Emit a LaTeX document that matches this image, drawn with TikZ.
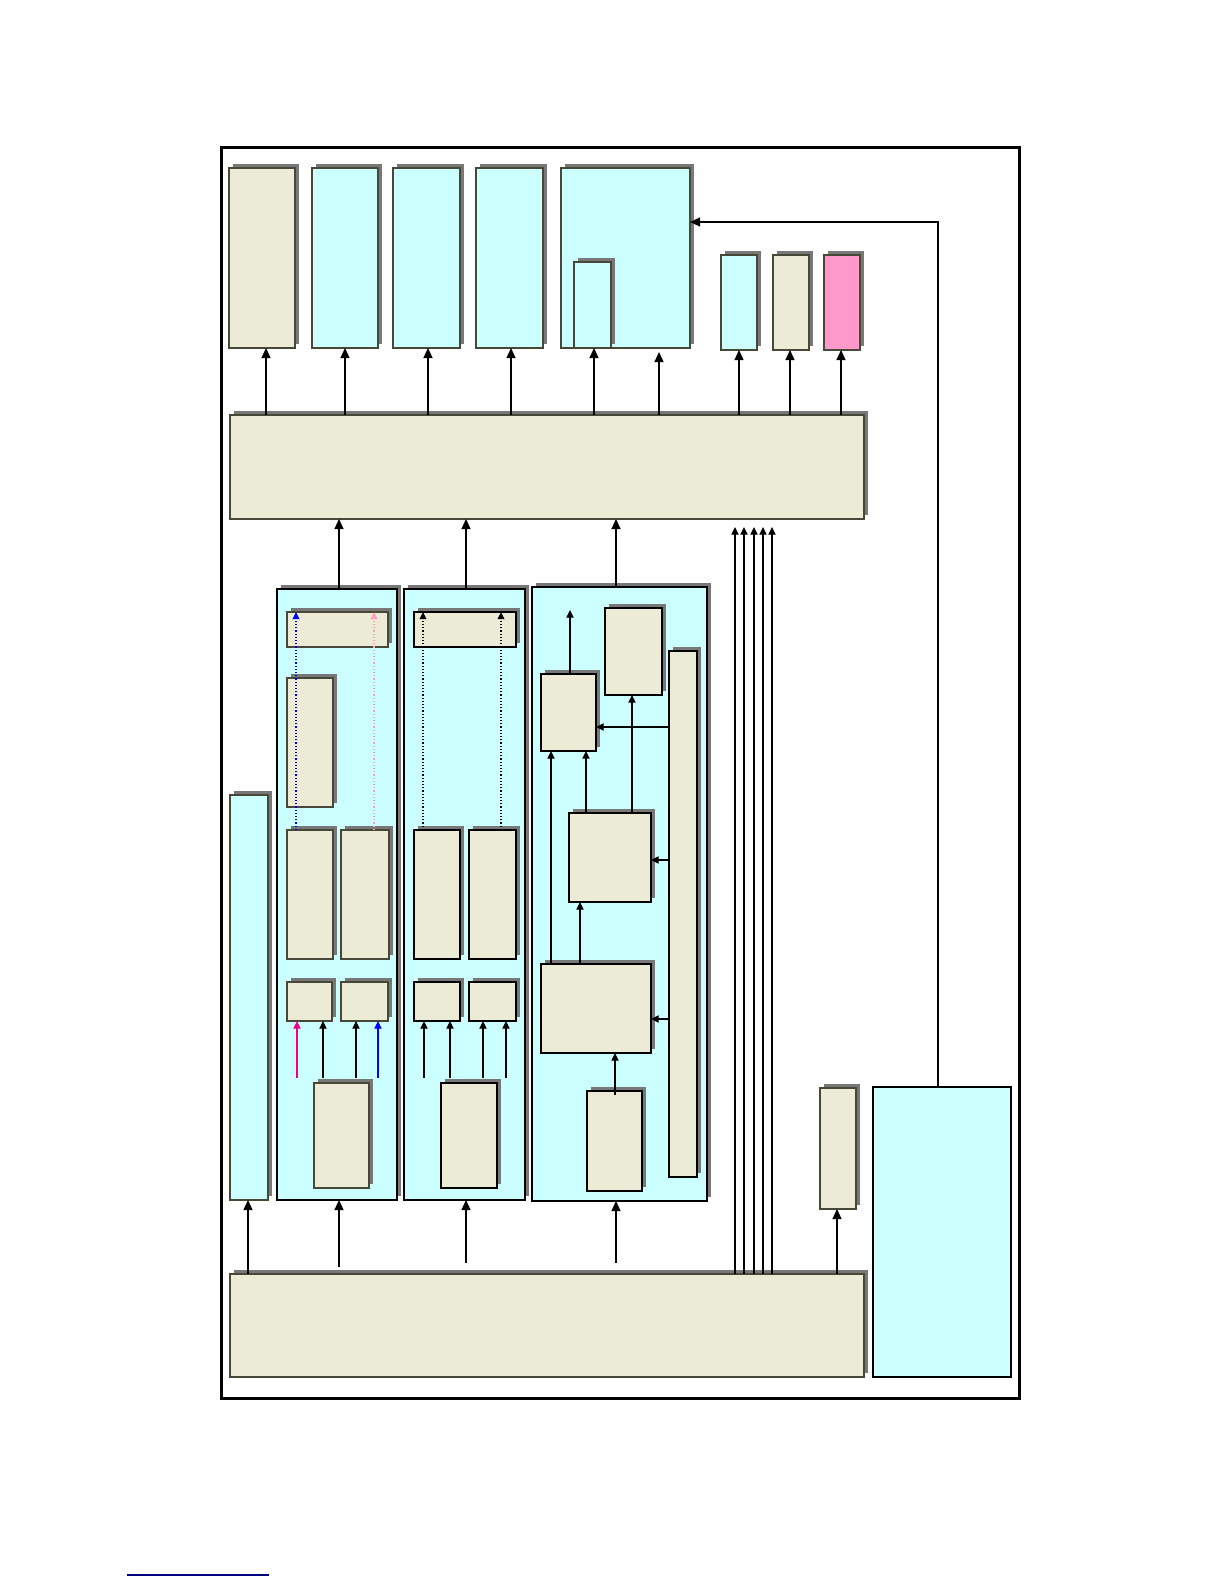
\documentclass[tikz,border=0pt]{standalone}
\usetikzlibrary{shadows,fit,arrows.meta}
\definecolor{beige}{RGB}{236,235,214}
\definecolor{cyanb}{RGB}{204,255,255}
\definecolor{pinkb}{RGB}{255,153,204}
\definecolor{bd}{RGB}{72,72,56}
\definecolor{shd}{RGB}{120,120,120}
\definecolor{linkblue}{RGB}{0,0,128}
\definecolor{dotpink}{RGB}{255,160,190}
\tikzset{
  bx/.style={rectangle, inner sep=0pt, outer sep=0pt, draw=bd, line width=1pt,
             general shadow={fill=shd, shadow xshift=1.9pt, shadow yshift=1.9pt}},
  bg/.style={bx, fill=beige},
  bc/.style={bx, fill=cyanb},
  bp/.style={bx, fill=pinkb},
  blk/.style={draw=black, line width=1.2pt},
  grp/.style={bc, blk},
  arr/.style={-{Triangle[length=5pt,width=4.5pt]}, line width=0.6pt},
  sarr/.style={-{Triangle[length=3.8pt,width=3.6pt]}, line width=0.6pt},
  dotarr/.style={-{Triangle[length=3.6pt,width=3.4pt]}, line width=0.6pt, densely dotted},
}
\begin{document}
\begin{tikzpicture}[x=0.5pt,y=-0.5pt]
\useasboundingbox (0,0) rectangle (1224,1584);
% outer frame
\node[rectangle, draw=black, line width=1.5pt, inner sep=0pt, fit={(221,147) (1019,1398)}] (frame) {};

% top row
\node[bg, fit={(229,168) (295,348)}] (t1) {};
\node[bc, fit={(312,168) (378,348)}] (t2) {};
\node[bc, fit={(393,168) (460,348)}] (t3) {};
\node[bc, fit={(476,168) (543,348)}] (t4) {};
\node[bc, fit={(561,168) (690,348)}] (t5) {};
\node[bc, fit={(574,262) (611,348)}] (ti) {};
\node[bc, fit={(721,255) (757,350)}] (s1) {};
\node[bg, fit={(773,255) (809,350)}] (s2) {};
\node[bp, fit={(824,255) (860,350)}] (s3) {};

% top bus
\node[bg, fit={(230,415) (864,519)}] (bus1) {};

% arrows bus1 -> top row
\coordinate (a1) at (266,0);
\coordinate (a2) at (345,0);
\coordinate (a3) at (428,0);
\coordinate (a4) at (511,0);
\coordinate (a5) at (594,0);
\coordinate (a6) at (659,0);
\coordinate (a7) at (739,0);
\coordinate (a8) at (790,0);
\coordinate (a9) at (841,0);
\draw[arr] (a1 |- bus1.north) -- (a1 |- t1.south);
\draw[arr] (a2 |- bus1.north) -- (a2 |- t2.south);
\draw[arr] (a3 |- bus1.north) -- (a3 |- t3.south);
\draw[arr] (a4 |- bus1.north) -- (a4 |- t4.south);
\draw[arr] (a5 |- bus1.north) -- (a5 |- ti.south);
\draw[arr, shorten >=2pt] (a6 |- bus1.north) -- (a6 |- t5.south);
\draw[arr] (a7 |- bus1.north) -- (a7 |- s1.south);
\draw[arr] (a8 |- bus1.north) -- (a8 |- s2.south);
\draw[arr] (a9 |- bus1.north) -- (a9 |- s3.south);

% left tall box
\node[bc, fit={(230,795) (268,1200)}] (lt) {};

% groups
\node[grp, fit={(277,589) (397,1200)}] (g1) {};
\node[grp, fit={(404,589) (525,1200)}] (g2) {};
\node[grp, fit={(532,587) (707,1201)}] (g3) {};

% group 1 content
\node[bg, fit={(287,612) (388,647)}] (g1bar) {};
\node[bg, fit={(287,678) (333,807)}] (g1tall) {};
\node[bg, fit={(287,830) (333,959)}] (g1m1) {};
\node[bg, fit={(341,830) (389,959)}] (g1m2) {};
\node[bg, fit={(287,982) (332,1021)}] (g1s1) {};
\node[bg, fit={(341,982) (388,1021)}] (g1s2) {};
\node[bg, fit={(314,1083) (369,1188)}] (g1b) {};

\coordinate (d1) at (296,0);
\coordinate (d2) at (374,0);
\draw[dotarr, blue] (d1 |- g1m1.north) -- (d1 |- g1bar.north);
\draw[dotarr, dotpink] (d2 |- g1m2.north) -- (d2 |- g1bar.north);

\coordinate (e1) at (297,1078);
\coordinate (e2) at (323,1078);
\coordinate (e3) at (356,1078);
\coordinate (e4) at (378,1078);
\draw[sarr, magenta] (e1) -- (e1 |- g1s1.south);
\draw[sarr] (e2) -- (e2 |- g1s1.south);
\draw[sarr] (e3) -- (e3 |- g1s2.south);
\draw[sarr, blue] (e4) -- (e4 |- g1s2.south);

% group 2 content
\node[bg, blk, fit={(414,612) (516,647)}] (g2bar) {};
\node[bg, blk, fit={(414,830) (460,959)}] (g2m1) {};
\node[bg, blk, fit={(469,830) (516,959)}] (g2m2) {};
\node[bg, blk, fit={(414,982) (460,1021)}] (g2s1) {};
\node[bg, blk, fit={(469,982) (516,1021)}] (g2s2) {};
\node[bg, blk, fit={(441,1083) (497,1188)}] (g2b) {};

\coordinate (d3) at (423,0);
\coordinate (d4) at (501,0);
\draw[dotarr] (d3 |- g2m1.north) -- (d3 |- g2bar.north);
\draw[dotarr] (d4 |- g2m2.north) -- (d4 |- g2bar.north);

\coordinate (f1) at (424,1078);
\coordinate (f2) at (450,1078);
\coordinate (f3) at (483,1078);
\coordinate (f4) at (506,1078);
\draw[sarr] (f1) -- (f1 |- g2s1.south);
\draw[sarr] (f2) -- (f2 |- g2s1.south);
\draw[sarr] (f3) -- (f3 |- g2s2.south);
\draw[sarr] (f4) -- (f4 |- g2s2.south);

% group 3 content
\node[bg, blk, fit={(541,674) (596,751)}] (gA) {};
\node[bg, blk, fit={(605,608) (662,695)}] (gB) {};
\node[bg, blk, fit={(669,651) (697,1177)}] (gC) {};
\node[bg, blk, fit={(569,813) (651,902)}] (gD) {};
\node[bg, blk, fit={(541,964) (651,1053)}] (gE) {};
\node[bg, blk, fit={(587,1091) (642,1191)}] (gF) {};

\coordinate (hA) at (570,610);
\draw[sarr] (hA |- gA.north) -- (hA);
\coordinate (y1) at (0,727);
\draw[sarr] (gC.west |- y1) -- (gA.east |- y1);
\coordinate (x1) at (586,0);
\coordinate (x2) at (632,0);
\coordinate (x3) at (580,0);
\coordinate (x4) at (551,0);
\coordinate (x5) at (615,1095);
\draw[sarr] (x1 |- gD.north) -- (x1 |- gA.south);
\draw[sarr] (x2 |- gD.north) -- (x2 |- gB.south);
\draw[sarr] (x4 |- gE.north) -- (x4 |- gA.south);
\draw[sarr] (x3 |- gE.north) -- (x3 |- gD.south);
\coordinate (y2) at (0,860);
\coordinate (y3) at (0,1019);
\draw[sarr] (gC.west |- y2) -- (gD.east |- y2);
\draw[sarr] (gC.west |- y3) -- (gE.east |- y3);
\draw[sarr] (x5) -- (x5 |- gE.south);

% group -> bus1
\coordinate (u1) at (339,0);
\coordinate (u2) at (466,0);
\coordinate (u3) at (616,0);
\draw[arr] (u1 |- g1.north) -- (u1 |- bus1.south);
\draw[arr] (u2 |- g2.north) -- (u2 |- bus1.south);
\draw[arr] (u3 |- g3.north) -- (u3 |- bus1.south);

% bottom bus
\node[bg, fit={(230,1274) (864,1377)}] (bus2) {};
\node[bg, fit={(820,1088) (856,1209)}] (gG) {};
\node[rectangle, draw=black, line width=0.8pt, fill=cyanb, inner sep=0pt, fit={(873,1087) (1011,1377)}] (rb) {};

% bus2 -> up
\coordinate (v0) at (248,0);
\coordinate (v1) at (339,1267);
\coordinate (v2) at (466,1263);
\coordinate (v3) at (616,1263);
\draw[arr] (v0 |- bus2.north) -- (v0 |- lt.south);
\draw[arr] (v1) -- (v1 |- g1.south);
\draw[arr] (v2) -- (v2 |- g2.south);
\draw[arr] (v3) -- (v3 |- g3.south);
\coordinate (vG) at (837,0);
\draw[arr] (vG |- bus2.north) -- (vG |- gG.south);

% five lines bus2 -> bus1
\foreach \xx/\nm in {735/w1,744/w2,754/w3,763/w4,772/w5}{
  \coordinate (\nm) at (\xx,527);
  \draw[sarr] (\nm |- bus2.north) -- (\nm);
}

% feedback
\coordinate (fb) at (938,222);
\draw[arr] (fb |- rb.north) -- (fb) -- (fb -| t5.east);

% underline
\draw[linkblue, line width=0.8pt] (127,1575) -- (269,1575);
\end{tikzpicture}
\end{document}
